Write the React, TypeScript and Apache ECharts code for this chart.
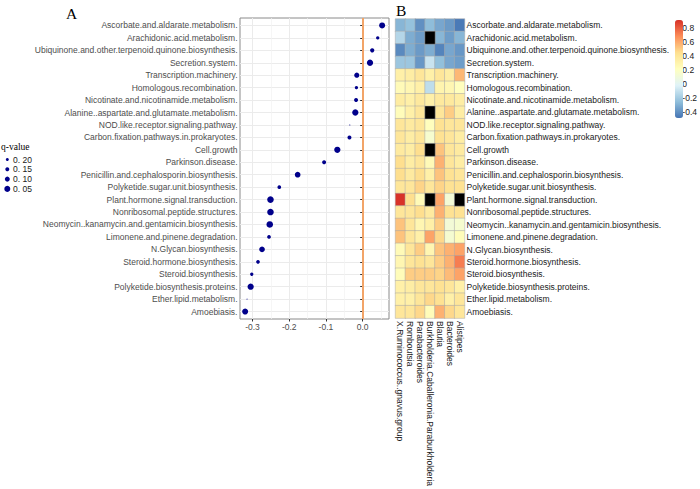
import React, { useEffect, useRef } from "react";
import * as echarts from "echarts";

const pathways = [
  "Ascorbate.and.aldarate.metabolism.",
  "Arachidonic.acid.metabolism.",
  "Ubiquinone.and.other.terpenoid.quinone.biosynthesis.",
  "Secretion.system.",
  "Transcription.machinery.",
  "Homologous.recombination.",
  "Nicotinate.and.nicotinamide.metabolism.",
  "Alanine..aspartate.and.glutamate.metabolism.",
  "NOD.like.receptor.signaling.pathway.",
  "Carbon.fixation.pathways.in.prokaryotes.",
  "Cell.growth",
  "Parkinson.disease.",
  "Penicillin.and.cephalosporin.biosynthesis.",
  "Polyketide.sugar.unit.biosynthesis.",
  "Plant.hormone.signal.transduction.",
  "Nonribosomal.peptide.structures.",
  "Neomycin..kanamycin.and.gentamicin.biosynthesis.",
  "Limonene.and.pinene.degradation.",
  "N.Glycan.biosynthesis.",
  "Steroid.hormone.biosynthesis.",
  "Steroid.biosynthesis.",
  "Polyketide.biosynthesis.proteins.",
  "Ether.lipid.metabolism.",
  "Amoebiasis.",
];

const effectValues = [
  0.053, 0.041, 0.026, 0.02, -0.016, -0.017, -0.018, -0.02, -0.035, -0.036,
  -0.069, -0.105, -0.177, -0.227, -0.251, -0.251, -0.253, -0.255, -0.274,
  -0.285, -0.302, -0.305, -0.315, -0.32,
];

const qValues = [
  0.05, 0.185, 0.135, 0.035, 0.09, 0.185, 0.15, 0.035, 0.3, 0.15, 0.035, 0.15,
  0.065, 0.165, 0.02, 0.02, 0.02, 0.165, 0.065, 0.165, 0.185, 0.035, 0.3, 0.05,
];

const qBreaks = [0.2, 0.15, 0.1, 0.05];
const qBreakLabels = ["0. 20", "0. 15", "0. 10", "0. 05"];

const xTicks = [-0.3, -0.2, -0.1, 0];
const xTickLabels = ["-0.3", "-0.2", "-0.1", "0.0"];
const xMinorTicks = [-0.25, -0.15, -0.05, 0.05];

const genera = [
  "X.Ruminococcus..gnavus.group",
  "Romboutsia",
  "Parabacteroides",
  "Burkholderia.Caballeronia.Paraburkholderia",
  "Blautia",
  "Bacteroides",
  "Alistipes",
];

// rows follow `pathways`, columns follow `genera`; null = not available (black cell)
const heatValues: (number | null)[][] = [
  [-0.28, -0.24, -0.4, -0.26, -0.33, -0.37, -0.47],
  [-0.15, -0.31, -0.36, null, -0.28, -0.36, -0.28],
  [-0.42, -0.31, -0.37, -0.31, -0.44, -0.33, -0.38],
  [-0.22, -0.22, -0.38, -0.09, -0.25, -0.33, -0.36],
  [0.33, 0.35, 0.4, 0.33, 0.4, 0.35, 0.56],
  [0.25, 0.28, 0.33, -0.12, 0.3, 0.28, 0.22],
  [0.36, 0.33, 0.38, 0.33, 0.38, 0.38, 0.35],
  [0.24, 0.33, 0.4, null, 0.4, 0.5, 0.35],
  [0.4, 0.37, 0.4, 0.22, 0.43, 0.4, 0.4],
  [0.4, 0.35, 0.4, 0.15, 0.43, 0.4, 0.35],
  [0.37, 0.35, 0.45, null, 0.53, 0.4, 0.37],
  [0.45, 0.35, 0.4, 0.25, 0.58, 0.4, 0.35],
  [0.45, 0.37, 0.45, 0.33, 0.53, 0.43, 0.4],
  [0.4, 0.4, 0.48, 0.4, 0.48, 0.43, 0.43],
  [0.91, 0.45, 0.25, null, 0.62, 0.12, null],
  [0.4, 0.4, 0.45, 0.37, 0.58, 0.43, 0.43],
  [0.53, 0.4, 0.28, 0.33, 0.5, 0.12, 0.15],
  [0.53, 0.4, 0.33, 0.62, 0.47, 0.14, 0.24],
  [0.25, 0.4, 0.5, 0.28, 0.53, 0.58, 0.62],
  [0.28, 0.4, 0.43, 0.4, 0.5, 0.58, 0.72],
  [0.24, 0.5, 0.5, 0.5, 0.48, 0.55, 0.62],
  [0.33, 0.35, 0.4, 0.4, 0.43, 0.4, 0.33],
  [0.33, 0.33, 0.4, 0.47, 0.43, 0.33, 0.4],
  [0.4, 0.4, 0.47, 0.24, 0.58, 0.47, 0.4],
];

const colorMin = -0.486;
const colorMax = 0.914;
const colorbarTicks = [-0.4, -0.2, 0, 0.2, 0.4, 0.6, 0.8];
const colorbarLabels = ["-0.4", "-0.2", "0", "0.2", "0.4", "0.6", "0.8"];
const palette = ["#4575B4", "#91BFDB", "#E0F3F8", "#FFFFBF", "#FEE090", "#FC8D59", "#D73027"];

const sizeOf = (q: number) => Math.max(1, 3 + (0.2 - q) * 20);

export default function App() {
  const ref = useRef<HTMLDivElement>(null);

  useEffect(() => {
    if (!ref.current) return;
    const chart = echarts.init(ref.current, null, { renderer: "svg" });

    const rowIdx = pathways.map((_, i) => i + 1);
    const heatData: number[][] = [];
    const naData: number[][] = [];
    heatValues.forEach((row, r) =>
      row.forEach((v, c) => {
        if (v === null) naData.push([c, r, 0]);
        else heatData.push([c, r, v]);
      })
    );

    const sans = "Liberation Sans";
    const serif = "Liberation Serif";
    const dotColor = "#00008B";

    const legendY0 = 159.5;
    const legendStep = 9.8;
    const graphics: any[] = [
      { type: "text", x: 66, y: 5, style: { text: "A", fontSize: 15.5, fontFamily: serif, fill: "#000" } },
      { type: "text", x: 396, y: 2, style: { text: "B", fontSize: 15.5, fontFamily: serif, fill: "#000" } },
      { type: "text", x: 1, y: 147, style: { text: "q-value", fontSize: 9.5, fontFamily: serif, fill: "#000", verticalAlign: "middle" } },
    ];
    qBreaks.forEach((q, i) => {
      const y = legendY0 + i * legendStep;
      graphics.push({ type: "circle", shape: { cx: 7.3, cy: y, r: sizeOf(q) / 2 }, style: { fill: dotColor } });
      graphics.push({
        type: "text",
        x: 13,
        y,
        style: { text: qBreakLabels[i], fontSize: 8.5, fontFamily: sans, fill: "#1a1a1a", verticalAlign: "middle" },
      });
    });

    chart.setOption({
      animation: false,
      textStyle: { fontFamily: sans },
      grid: [
        { left: 240, top: 18, width: 149, height: 301, show: true, borderColor: "#8a8a8a", borderWidth: 1, backgroundColor: "transparent" },
        { left: 395.5, top: 19, width: 69, height: 300 },
        { left: 675, top: 20, width: 8, height: 98 },
      ],
      xAxis: [
        {
          type: "value",
          gridIndex: 0,
          min: -0.334,
          max: 0.0717,
          position: "bottom",
          axisLine: { show: false },
          axisTick: { show: true, customValues: xTicks, length: 2.5, lineStyle: { color: "#333" } },
          axisLabel: {
            customValues: xTicks,
            formatter: (v: number) => xTickLabels[xTicks.findIndex((t) => Math.abs(t - v) < 1e-9)] ?? "",
            fontSize: 8.5,
            color: "#4d4d4d",
            margin: 3,
          },
          splitLine: { show: true, lineStyle: { color: "#ebebeb", width: 1 } },
        },
        {
          type: "value",
          gridIndex: 0,
          min: -0.334,
          max: 0.0717,
          position: "bottom",
          axisLine: { show: false },
          axisTick: { show: false, customValues: xMinorTicks },
          axisLabel: { show: false },
          splitLine: { show: true, lineStyle: { color: "#f2f2f2", width: 0.7 } },
        },
        {
          type: "category",
          gridIndex: 1,
          data: genera,
          position: "bottom",
          axisLine: { show: false },
          axisTick: { show: false },
          axisLabel: { interval: 0, rotate: -90, fontSize: 8.5, color: "#1a1a1a", margin: 3, overflow: "none" },
        },
        { type: "value", gridIndex: 2, min: 0, max: 1, show: false },
      ],
      yAxis: [
        {
          type: "value",
          gridIndex: 0,
          min: 0.4,
          max: 24.6,
          inverse: true,
          axisLine: { show: false },
          axisTick: { show: true, customValues: rowIdx, length: 2.5, lineStyle: { color: "#333" } },
          axisLabel: {
            customValues: rowIdx,
            formatter: (v: number) => pathways[Math.round(v) - 1] ?? "",
            fontSize: 8.5,
            color: "#4d4d4d",
            margin: 2.5,
          },
          splitLine: { show: true, lineStyle: { color: "#ebebeb", width: 1 } },
        },
        {
          type: "category",
          gridIndex: 1,
          data: pathways,
          inverse: true,
          position: "right",
          axisLine: { show: false },
          axisTick: { show: false },
          axisLabel: { interval: 0, fontSize: 8.5, color: "#1a1a1a", margin: 2 },
        },
        {
          type: "value",
          gridIndex: 2,
          min: colorMin,
          max: colorMax,
          position: "right",
          axisLine: { show: false },
          axisTick: { show: false },
          splitLine: { show: false },
          axisLabel: {
            customValues: colorbarTicks,
            formatter: (v: number) => colorbarLabels[colorbarTicks.findIndex((t) => Math.abs(t - v) < 1e-9)] ?? "",
            fontSize: 8.5,
            color: "#1a1a1a",
            margin: 2,
          },
        },
      ],
      visualMap: [
        {
          type: "continuous",
          seriesIndex: 1,
          min: colorMin,
          max: colorMax,
          inRange: { color: palette },
          orient: "vertical",
          left: 675,
          top: 20,
          itemWidth: 8,
          itemHeight: 98,
          padding: 0,
          calculable: false,
          hoverLink: false,
        },
        {
          type: "continuous",
          seriesIndex: 2,
          show: false,
          min: 0,
          max: 1,
          inRange: { color: ["#000000", "#000000"] },
        },
      ],
      graphic: graphics,
      series: [
        {
          type: "scatter",
          xAxisIndex: 0,
          yAxisIndex: 0,
          data: pathways.map((_, i) => [effectValues[i], i + 1, qValues[i]]),
          symbolSize: (v: number[]) => sizeOf(v[2]),
          itemStyle: { color: dotColor, opacity: 1 },
          markLine: {
            silent: true,
            symbol: ["none", "none"],
            label: { show: false },
            lineStyle: { color: "#F2A468", width: 2, type: "solid", opacity: 1 },
            emphasis: { disabled: true },
            data: [{ xAxis: 0 }],
          },
          z: 3,
        },
        {
          type: "heatmap",
          xAxisIndex: 2,
          yAxisIndex: 1,
          data: heatData,
          itemStyle: { borderColor: "#a8a8a8", borderWidth: 0.5 },
          emphasis: { disabled: true },
        },
        {
          type: "heatmap",
          xAxisIndex: 2,
          yAxisIndex: 1,
          data: naData,
          itemStyle: { borderColor: "#a8a8a8", borderWidth: 0.5 },
          emphasis: { disabled: true },
        },
      ],
    });

    return () => chart.dispose();
  }, []);

  return (
    <div
      ref={ref}
      style={{ position: "absolute", left: 0, top: 0, width: 700, height: 489, background: "#fff" }}
    />
  );
}
